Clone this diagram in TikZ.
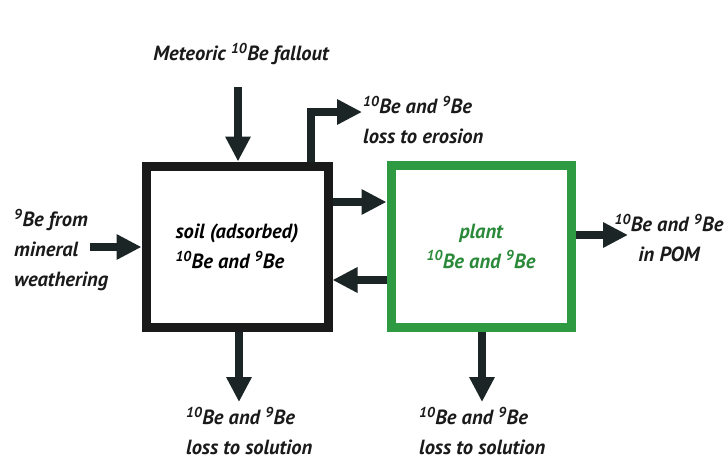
\documentclass[tikz,border=0pt]{standalone}
\usepackage{fontspec}
\setmainfont{PT Sans}
\usepackage{tikz}
\usetikzlibrary{arrows.meta,positioning,calc}
\usepackage{xcolor}
\definecolor{flowgray}{HTML}{1B2525}
\definecolor{inkblack}{HTML}{1A1A1A}
\definecolor{plantgreen}{HTML}{2E9A42}
\definecolor{planttext}{HTML}{2A8A3A}
\newcommand{\iso}[1]{\textsuperscript{#1}}
\tikzset{
        block/.style = {draw=inkblack, fill=white, rectangle, line width=9pt, inner sep=0pt},
        lbl/.style = {inner sep=0pt, text=inkblack},
        flow/.style={draw=flowgray, line width=8pt, -{Triangle[length=25pt,width=24pt]}}}

\begin{document}
\begin{tikzpicture}[x=1pt, y=-1pt, line join=miter,
        every node/.style={font=\fontsize{20.5}{30}\selectfont\bfseries\itshape}]
            \useasboundingbox (0,0) rectangle (725,463);

            \node [block, minimum width=182pt, minimum height=161pt, align=left] (soil) at (237,246.5) {soil (adsorbed)\\\iso{10}Be and \iso{9}Be};
            \node [block, draw=plantgreen, text=planttext, minimum width=180pt, minimum height=162pt, align=center] (plant) at (481,246) {plant\\\iso{10}Be and \iso{9}Be};

            \node [lbl] (fall) at (241,54) {Meteoric \iso{10}Be fallout};
            \node [lbl, anchor=west, align=left] (erosion) at (363,120) {\iso{10}Be and \iso{9}Be\\loss to erosion};
            \node [lbl, anchor=west, align=left] (weather) at (14,250) {\iso{9}Be from\\mineral\\weathering};
            \node [lbl, align=center] (pom) at (669,238) {\iso{10}Be and \iso{9}Be\\in POM};
            \node [lbl, anchor=west, align=left] (soilsol) at (186,431) {\iso{10}Be and \iso{9}Be\\loss to solution};
            \node [lbl, anchor=west, align=left] (plantsol) at (419,431) {\iso{10}Be and \iso{9}Be\\loss to solution};

            \coordinate (fallin) at (238,87);
            \coordinate (erocorner) at (311,112);
            \coordinate (erotip) at (362,112);
            \coordinate (weathin) at (90,247);
            \coordinate (uptake) at (0,202);
            \coordinate (litter) at (0,280);
            \coordinate (pomtip) at (628,235);
            \coordinate (soilout) at (239,402);
            \coordinate (plantout) at (482,402);

            \begin{scope}[flow]
            \draw (fallin) -- (fallin |- soil.north);
            \draw (erocorner |- soil.north) -- (erocorner) -- (erotip);
            \draw (weathin) -- (weathin -| soil.west);
            \draw (soil.east |- uptake) -- (plant.west |- uptake);
            \draw (plant.west |- litter) -- (soil.east |- litter);
            \draw (plant.east |- pomtip) -- (pomtip);
            \draw (soil.south -| soilout) -- (soilout);
            \draw (plant.south -| plantout) -- (plantout);
            \end{scope}
    \end{tikzpicture}
\end{document}
